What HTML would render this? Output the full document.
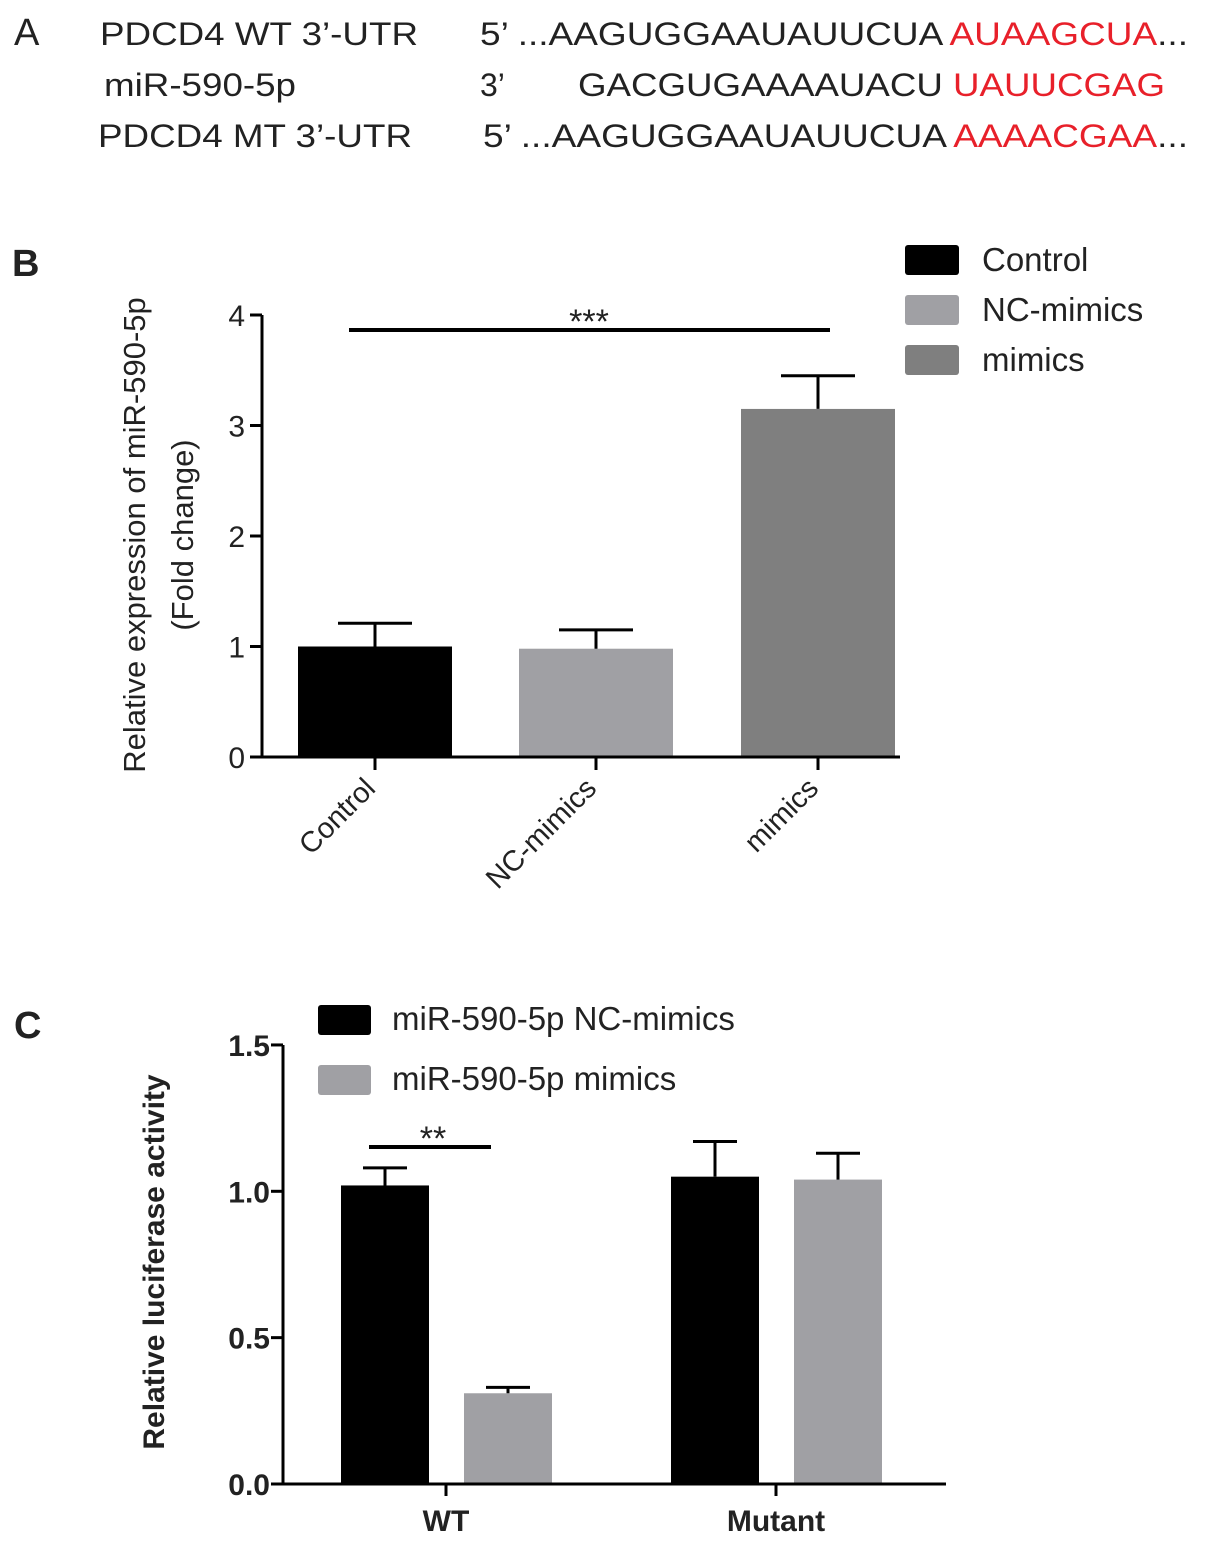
<!DOCTYPE html>
<html><head><meta charset="utf-8"><style>
body{margin:0;background:#fff;}
svg{display:block;font-family:"Liberation Sans",Arial,sans-serif;}
</style></head><body>
<svg id="fig" width="1205" height="1546" viewBox="0 0 1205 1546">
<g font-size="32" fill="#222">
<text x="14" y="45" font-size="38">A</text>
<text x="100" y="45" textLength="318" lengthAdjust="spacingAndGlyphs">PDCD4 WT 3’-UTR</text>
<text x="480" y="45" textLength="708" lengthAdjust="spacingAndGlyphs">5’ ...AAGUGGAAUAUUCUA <tspan fill="#e8202a">AUAAGCUA</tspan>...</text>
<text x="104" y="96" textLength="192" lengthAdjust="spacingAndGlyphs">miR-590-5p</text>
<text x="480" y="96">3’</text>
<text x="578" y="96" textLength="587" lengthAdjust="spacingAndGlyphs">GACGUGAAAAUACU <tspan fill="#e8202a">UAUUCGAG</tspan></text>
<text x="98" y="147" textLength="314" lengthAdjust="spacingAndGlyphs">PDCD4 MT 3’-UTR</text>
<text x="483" y="147" textLength="705" lengthAdjust="spacingAndGlyphs">5’ ...AAGUGGAAUAUUCUA <tspan fill="#e8202a">AAAACGAA</tspan>...</text>
</g>
<g id="pb"></g>
<g id="pc"></g>
</svg>
<script>
const bCats=["Control","NC-mimics","mimics"];
const bVals=[1.0,0.98,3.15];
const bErr=[0.21,0.17,0.30];
const bTicks=[0,1,2,3,4];
const cGroups=["WT","Mutant"];
const cNC=[1.02,1.05];
const cNCErr=[0.06,0.12];
const cMim=[0.31,1.04];
const cMimErr=[0.02,0.09];
const cTicks=["0.0","0.5","1.0","1.5"];
const NS="http://www.w3.org/2000/svg";
function mk(p,t,a,txt){const e=document.createElementNS(NS,t);for(const k in a)e.setAttribute(k,a[k]);if(txt!==undefined)e.textContent=txt;p.appendChild(e);return e;}
// Panel B
const pb=document.getElementById('pb');
const yB=v=>757-v*110.5;
let t=mk(pb,'text',{x:12,y:276,'font-size':38,'font-weight':'bold',fill:'#222'},'B');

const bCols=["#000","#a0a0a4","#7f7f7f"];
const bCx=[375,596,818];
bVals.forEach((v,i)=>{
 const r=mk(pb,'rect',{x:bCx[i]-77,y:yB(v),width:154,height:757-yB(v),fill:bCols[i]});
 
 const e=mk(pb,'path',{d:`M${bCx[i]} ${yB(v)}V${yB(v+bErr[i])}M${bCx[i]-37} ${yB(v+bErr[i])}H${bCx[i]+37}`,stroke:'#000','stroke-width':3,fill:'none'});
 
 const tk=mk(pb,'line',{x1:bCx[i],x2:bCx[i],y1:757,y2:770,stroke:'#000','stroke-width':3});
 
 const lb=mk(pb,'text',{x:bCx[i]+2,y:790,'font-size':29,fill:'#222','text-anchor':'end',transform:`rotate(-45 ${bCx[i]+2} 790)`},bCats[i]);
 
});
let ax=mk(pb,'path',{d:`M262 ${yB(4)}V757H900`,stroke:'#000','stroke-width':3,fill:'none'});

bTicks.forEach(v=>{
 const l=mk(pb,'line',{x1:250,x2:262,y1:yB(v),y2:yB(v),stroke:'#000','stroke-width':3});
 
 const tx=mk(pb,'text',{x:245,y:yB(v)+11,'font-size':30,'text-anchor':'end',fill:'#222'},v);
 
});
t=mk(pb,'text',{transform:'translate(145 535) rotate(-90)','font-size':31,'text-anchor':'middle',fill:'#222'},'Relative expression of miR-590-5p');

t=mk(pb,'text',{transform:'translate(193 535) rotate(-90)','font-size':31,'text-anchor':'middle',fill:'#222'},'(Fold change)');

t=mk(pb,'line',{x1:349,x2:830,y1:330,y2:330,stroke:'#000','stroke-width':4});

t=mk(pb,'text',{x:589,y:333,'font-size':34,'text-anchor':'middle',fill:'#222'},'***');

bCats.forEach((c,i)=>{
 const r=mk(pb,'rect',{x:905,y:245+i*50,width:54,height:30,rx:3,fill:bCols[i]});
 
 const tx=mk(pb,'text',{x:982,y:271+i*50,'font-size':33,fill:'#222'},c);
 
});
// Panel C
const pc=document.getElementById('pc');
const yC=v=>1484-v*292.7;
t=mk(pc,'text',{x:14,y:1038,'font-size':38,'font-weight':'bold',fill:'#222'},'C');

const gCx=[446,776];
cGroups.forEach((g,i)=>{
 [[cNC,cNCErr,'#000',-61,'nc'],[cMim,cMimErr,'#a0a0a4',62,'mimics']].forEach(([vals,errs,col,off,nm])=>{
  const v=vals[i],cx=gCx[i]+off;
  const r=mk(pc,'rect',{x:cx-44,y:yC(v),width:88,height:1484-yC(v),fill:col});
  
  const e=mk(pc,'path',{d:`M${cx} ${yC(v)}V${yC(v+errs[i])}M${cx-22} ${yC(v+errs[i])}H${cx+22}`,stroke:'#000','stroke-width':3,fill:'none'});
  
 });
 const tk=mk(pc,'line',{x1:gCx[i],x2:gCx[i],y1:1484,y2:1496,stroke:'#000','stroke-width':3});
 
 const lb=mk(pc,'text',{x:gCx[i],y:1531,'font-size':30,'font-weight':'bold','text-anchor':'middle',fill:'#222'},g);
 
});
ax=mk(pc,'path',{d:`M283 ${yC(1.5)}V1484H946`,stroke:'#000','stroke-width':3,fill:'none'});

cTicks.forEach(s=>{
 const v=parseFloat(s);
 const l=mk(pc,'line',{x1:271,x2:283,y1:yC(v),y2:yC(v),stroke:'#000','stroke-width':3});
 
 const tx=mk(pc,'text',{x:270,y:yC(v)+11,'font-size':30,'font-weight':'bold','text-anchor':'end',fill:'#222'},s);
 
});
t=mk(pc,'text',{transform:'translate(164 1262) rotate(-90)','font-size':30,'font-weight':'bold','text-anchor':'middle',fill:'#222'},'Relative luciferase activity');

t=mk(pc,'line',{x1:369,x2:491,y1:1147,y2:1147,stroke:'#000','stroke-width':4});

t=mk(pc,'text',{x:433,y:1150,'font-size':34,'text-anchor':'middle',fill:'#222'},'**');

[["miR-590-5p NC-mimics","#000"],["miR-590-5p mimics","#a0a0a4"]].forEach(([n,c],i)=>{
 const r=mk(pc,'rect',{x:318,y:1005+i*60,width:53,height:30,rx:3,fill:c});
 
 const tx=mk(pc,'text',{x:392,y:1030+i*60,'font-size':33,fill:'#222'},n);
 
});
</script>
</body></html>
